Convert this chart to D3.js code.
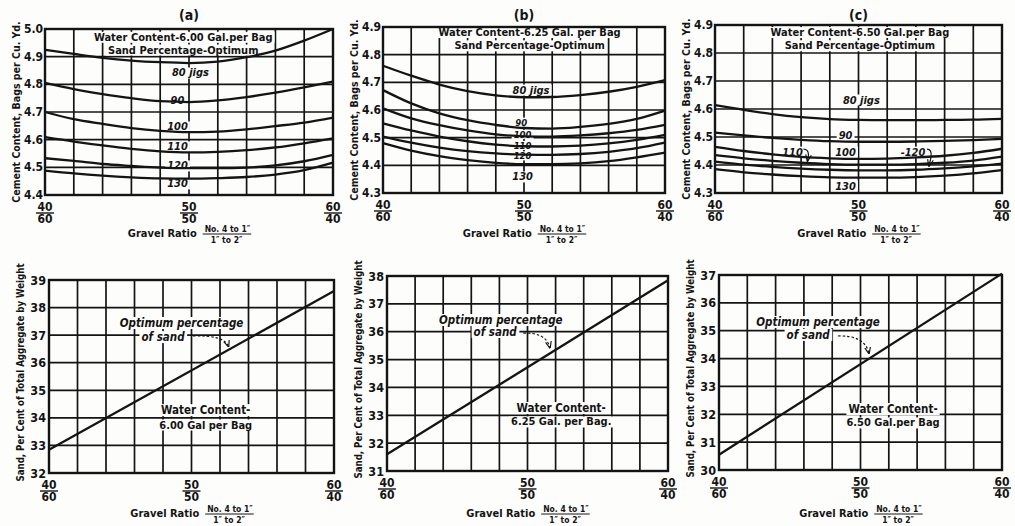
<!DOCTYPE html>
<html><head><meta charset="utf-8">
<script src="https://cdn.jsdelivr.net/npm/d3@7"></script>
<style>
body{margin:0;background:#fff;}
svg text{font-family:"DejaVu Sans Condensed","Liberation Sans Narrow","DejaVu Sans",sans-serif;font-weight:bold;fill:#141414;}
</style></head><body><svg id="c" width="1015" height="526"></svg>
<script>
// ---------------- data ----------------
const gravel = [40, 42, 44, 46, 48, 50, 52, 54, 56, 58, 60];
const ratioTicks = [40, 50, 60];
const ratioNum = ["40", "50", "60"];
const ratioDen = ["60", "50", "40"];
const panelTags = ["(a)", "(b)", "(c)"];
const waterHeads = ["Water Content-6.00 Gal.per Bag", "Water Content-6.25 Gal. per Bag", "Water Content-6.50 Gal.per Bag"];
const waterNotes = ["6.00 Gal per Bag", "6.25 Gal. per Bag.", "6.50 Gal.per Bag"];
const jigs = [80, 90, 100, 110, 120, 130];
const jigLabels = ["80 jigs", "90", "100", "110", "120", "130"];

const cementA = [
  [4.925, 4.910, 4.896, 4.886, 4.880, 4.877, 4.882, 4.898, 4.922, 4.958, 5.000],
  [4.805, 4.783, 4.765, 4.750, 4.739, 4.736, 4.742, 4.754, 4.770, 4.789, 4.810],
  [4.700, 4.674, 4.657, 4.642, 4.632, 4.627, 4.629, 4.637, 4.649, 4.662, 4.680],
  [4.609, 4.593, 4.579, 4.567, 4.558, 4.554, 4.556, 4.562, 4.572, 4.587, 4.605],
  [4.533, 4.523, 4.512, 4.505, 4.499, 4.497, 4.497, 4.499, 4.507, 4.522, 4.545],
  [4.488, 4.478, 4.470, 4.464, 4.460, 4.459, 4.461, 4.465, 4.474, 4.490, 4.517]
];
const cementB = [
  [4.760, 4.724, 4.692, 4.668, 4.653, 4.646, 4.647, 4.654, 4.666, 4.684, 4.708],
  [4.672, 4.624, 4.588, 4.563, 4.546, 4.535, 4.533, 4.539, 4.550, 4.568, 4.598],
  [4.606, 4.570, 4.545, 4.526, 4.512, 4.505, 4.504, 4.508, 4.516, 4.528, 4.546],
  [4.552, 4.526, 4.504, 4.487, 4.475, 4.469, 4.468, 4.471, 4.479, 4.492, 4.510],
  [4.504, 4.482, 4.464, 4.451, 4.443, 4.439, 4.438, 4.441, 4.449, 4.462, 4.482],
  [4.480, 4.453, 4.433, 4.419, 4.409, 4.404, 4.404, 4.407, 4.415, 4.429, 4.446]
];
const cementC = [
  [4.614, 4.597, 4.582, 4.571, 4.564, 4.561, 4.560, 4.560, 4.561, 4.562, 4.565],
  [4.516, 4.506, 4.497, 4.490, 4.485, 4.483, 4.483, 4.484, 4.486, 4.489, 4.493],
  [4.465, 4.450, 4.438, 4.429, 4.424, 4.422, 4.423, 4.427, 4.433, 4.443, 4.458],
  [4.435, 4.424, 4.415, 4.408, 4.403, 4.401, 4.401, 4.403, 4.408, 4.416, 4.430],
  [4.412, 4.401, 4.393, 4.387, 4.383, 4.381, 4.381, 4.383, 4.388, 4.395, 4.405],
  [4.385, 4.374, 4.366, 4.360, 4.356, 4.355, 4.355, 4.357, 4.362, 4.370, 4.382]
];
const cementTicksA = [4.4, 4.5, 4.6, 4.7, 4.8, 4.9, 5.0];
const cementTicksBC = [4.3, 4.4, 4.5, 4.6, 4.7, 4.8, 4.9];

const sandX = [40, 60];
const sandA = [32.84, 38.60];
const sandB = [31.60, 37.85];
const sandC = [30.55, 37.05];
const sandTicksA = [32, 33, 34, 35, 36, 37, 38, 39];
const sandTicksB = [31, 32, 33, 34, 35, 36, 37, 38];
const sandTicksC = [30, 31, 32, 33, 34, 35, 36, 37];

// ---------------- layout ----------------
const topPanels = [
  {x0:45, x1:333, y0:29, y1:195, values:cementA, ticks:cementTicksA, labSize:[11,11,11,11,11,11],
   head:[49.6, 4.970, 4.924], lab:[[50.1,4.841],[49.2,4.743],[49.2,4.646],[49.2,4.574],[49.2,4.505],[49.2,4.440]]},
  {x0:383, x1:665, y0:27, y1:193, values:cementB, ticks:cementTicksBC, labSize:[11,9.5,9.5,9.5,9.5,11],
   head:[50.4, 4.880, 4.832], lab:[[50.5,4.672],[49.8,4.556],[49.9,4.512],[49.9,4.472],[49.9,4.434],[49.9,4.358]]},
  {x0:715, x1:1002, y0:25, y1:193, values:cementC, ticks:cementTicksBC, labSize:[11,11,11,11,11,11],
   head:[50.1, 4.873, 4.826], lab:[[50.2,4.632],[49.1,4.507],[49.1,4.446],[45.4,4.446],[53.8,4.446],[49.1,4.325]]}
];
const botPanels = [
  {x0:49, x1:334, y0:280, y1:473, values:sandA, ticks:sandTicksA,
   opt:[49.3,37.44,48.0,36.93], arrow:[50.1,36.97,52.6,36.58], wc:[51.0,34.28,33.74]},
  {x0:387, x1:668, y0:276, y1:471, values:sandB, ticks:sandTicksB,
   opt:[48.1,36.42,47.7,35.99], arrow:[49.7,35.95,51.6,35.42], wc:[52.4,33.26,32.76]},
  {x0:719, x1:1002, y0:275, y1:470, values:sandC, ticks:sandTicksC,
   opt:[47.0,35.31,46.3,34.85], arrow:[48.4,34.81,50.6,34.18], wc:[52.3,32.19,31.69]}
];

const svg = d3.select("#c");
svg.append("rect").attr("width",1015).attr("height",526).attr("fill","#fdfdfb");
const defs = svg.append("defs");
defs.append("marker").attr("id","ah").attr("viewBox","0 0 10 10").attr("refX",9).attr("refY",5)
  .attr("markerWidth",6).attr("markerHeight",6).attr("orient","auto")
  .append("path").attr("d","M0,1 L10,5 L0,9").attr("fill","none").attr("stroke","#141414").attr("stroke-width",1.6);

const INK = "#141414";

function bgText(layerBg, layerTx, x, y, str, size, opts={}) {
  const t = layerTx.append("text").attr("x",x).attr("y",y).attr("text-anchor",opts.anchor||"middle")
    .attr("dominant-baseline","central").attr("font-size",size).text(str);
  if (opts.italic) t.attr("font-style","italic");
  const b = t.node().getBBox();
  layerBg.append("rect").attr("x",b.x-2).attr("y",b.y+1).attr("width",b.width+4).attr("height",b.height-2).attr("fill","#fdfdfb");
  return t;
}

function fracLabel(g, cx, y, num, den, size, gap) {
  g.append("text").attr("x",cx).attr("y",y).attr("text-anchor","middle").attr("font-size",size).text(num);
  g.append("line").attr("x1",cx-9).attr("x2",cx+9).attr("y1",y+2).attr("y2",y+2).attr("stroke",INK).attr("stroke-width",1.4);
  g.append("text").attr("x",cx).attr("y",y+gap).attr("text-anchor","middle").attr("font-size",size).text(den);
}

function xTitle(g, cx, y) {
  const grp = g.append("g");
  const t = grp.append("text").attr("x",0).attr("y",y).attr("font-size",11).text("Gravel Ratio");
  const w = t.node().getComputedTextLength();
  const fx = w + 8;
  const n = grp.append("text").attr("x",fx).attr("y",y-5).attr("font-size",8.5).text("No. 4 to 1\u2033");
  grp.append("text").attr("x",fx+6).attr("y",y+6).attr("font-size",8.5).text("1\u2033 to 2\u2033");
  const fw = n.node().getComputedTextLength();
  grp.append("line").attr("x1",fx-2).attr("x2",fx+fw+1).attr("y1",y-3).attr("y2",y-3).attr("stroke",INK).attr("stroke-width",1);
  const total = fx + fw;
  grp.attr("transform",`translate(${cx - total/2},0)`);
}

function gridAndFrame(gGrid, gFrame, x, y, yTicks) {
  gGrid.selectAll(".v").data(gravel).join("line")
    .attr("x1",d=>x(d)).attr("x2",d=>x(d)).attr("y1",y.range()[0]).attr("y2",y.range()[1])
    .attr("stroke",INK).attr("stroke-width",1.7);
  gGrid.selectAll(".h").data(yTicks).join("line")
    .attr("x1",x.range()[0]).attr("x2",x.range()[1]).attr("y1",d=>y(d)).attr("y2",d=>y(d))
    .attr("stroke",INK).attr("stroke-width",1.7);
  gFrame.append("rect").attr("x",x.range()[0]).attr("y",y.range()[1])
    .attr("width",x.range()[1]-x.range()[0]).attr("height",y.range()[0]-y.range()[1])
    .attr("fill","none").attr("stroke",INK).attr("stroke-width",2.4);
}

// ---------------- top panels ----------------
topPanels.forEach((p, i) => {
  const x = d3.scaleLinear().domain([40,60]).range([p.x0,p.x1]);
  const y = d3.scaleLinear().domain([p.ticks[0], p.ticks[p.ticks.length-1]]).range([p.y1,p.y0]);
  const g = svg.append("g");
  const gGrid = g.append("g"), gBg = g.append("g"), gCurve = g.append("g"), gFrame = g.append("g"), gTx = g.append("g");
  gridAndFrame(gGrid, gFrame, x, y, p.ticks);

  const line = d3.line().x((d,k)=>x(gravel[k])).y(d=>y(d)).curve(d3.curveMonotoneX);
  gCurve.selectAll("path").data(p.values).join("path").attr("d",line)
    .attr("fill","none").attr("stroke",INK).attr("stroke-width",2.3);

  bgText(gBg, gTx, x(p.head[0]), y(p.head[1]), waterHeads[i], 11);
  bgText(gBg, gTx, x(p.head[0]), y(p.head[2]), "Sand Percentage-Optimum", 11);

  jigLabels.forEach((lab, k) => {
    let str = lab;
    if (i === 2 && k === 4) str = "-" + lab;
    bgText(gBg, gTx, x(p.lab[k][0]), y(p.lab[k][1]), str, p.labSize[k], {italic:true});
  });
  if (i === 2) {
    const ax = x(p.lab[3][0]) + 11, ay = y(p.lab[3][1]) - 3;
    gTx.append("path").attr("d",`M${ax},${ay} q5,0 5,6 l-1,6`).attr("fill","none").attr("stroke",INK).attr("stroke-width",1.2).attr("marker-end","url(#ah)");
    const bx = x(p.lab[4][0]) + 14, by = y(p.lab[4][1]) - 3;
    gTx.append("path").attr("d",`M${bx},${by} q5,0 4,8 l-2,9`).attr("fill","none").attr("stroke",INK).attr("stroke-width",1.2).attr("marker-end","url(#ah)");
  }

  gTx.selectAll(".yt").data(p.ticks).join("text").attr("x",p.x0-2).attr("y",d=>y(d))
    .attr("text-anchor","end").attr("dominant-baseline","central").attr("font-size",12)
    .text(d=>d3.format(".1f")(d));
  ratioTicks.forEach((t,k)=> fracLabel(gTx, x(t), p.y1+16, ratioNum[k], ratioDen[k], 12, 12));
  xTitle(gTx, (p.x0+p.x1)/2, 237);
  gTx.append("text").attr("transform",`translate(${p.x0-29},${(p.y0+p.y1)/2}) rotate(-90)`)
    .attr("text-anchor","middle").attr("dominant-baseline","central").attr("font-size",10.5)
    .text("Cement Content, Bags per Cu. Yd.");
  gTx.append("text").attr("x",(p.x0+p.x1)/2).attr("y",15).attr("text-anchor","middle")
    .attr("dominant-baseline","central").attr("font-size",14).text(panelTags[i]);
});

// ---------------- bottom panels ----------------
botPanels.forEach((p, i) => {
  const x = d3.scaleLinear().domain([40,60]).range([p.x0,p.x1]);
  const y = d3.scaleLinear().domain([p.ticks[0], p.ticks[p.ticks.length-1]]).range([p.y1,p.y0]);
  const g = svg.append("g");
  const gGrid = g.append("g"), gBg = g.append("g"), gCurve = g.append("g"), gFrame = g.append("g"), gTx = g.append("g");
  gridAndFrame(gGrid, gFrame, x, y, p.ticks);

  gCurve.append("path").datum(p.values)
    .attr("d", d3.line().x((d,k)=>x(sandX[k])).y(d=>y(d)))
    .attr("fill","none").attr("stroke",INK).attr("stroke-width",2.3);

  bgText(gBg, gTx, x(p.opt[0]), y(p.opt[1]), "Optimum percentage", 11.5, {italic:true});
  bgText(gBg, gTx, x(p.opt[2]), y(p.opt[3]), "of sand", 11.5, {italic:true});
  const a = p.arrow;
  const sx = x(a[0]), sy = y(a[1]), ex = x(a[2]), ey = y(a[3]);
  gTx.append("path").attr("d",`M${sx},${sy} Q${ex-4},${sy-1} ${ex},${ey}`)
    .attr("fill","none").attr("stroke",INK).attr("stroke-width",1.2).attr("stroke-dasharray","2.5,2")
    .attr("marker-end","url(#ah)");
  bgText(gBg, gTx, x(p.wc[0]), y(p.wc[1]), "Water Content-", 11.5);
  bgText(gBg, gTx, x(p.wc[0]), y(p.wc[2]), waterNotes[i], 11);

  gTx.selectAll(".yt").data(p.ticks).join("text").attr("x",p.x0-3).attr("y",d=>y(d))
    .attr("text-anchor","end").attr("dominant-baseline","central").attr("font-size",12.5)
    .text(d=>d);
  ratioTicks.forEach((t,k)=> fracLabel(gTx, x(t), p.y1+16, ratioNum[k], ratioDen[k], 12, 12));
  xTitle(gTx, (p.x0+p.x1)/2, 517);
  gTx.append("text").attr("transform",`translate(${p.x0-29},${(p.y0+p.y1)/2 - 4}) rotate(-90)`)
    .attr("text-anchor","middle").attr("dominant-baseline","central").attr("font-size",9.6)
    .text("Sand, Per Cent of Total Aggregate by Weight");
});
</script></body></html>
